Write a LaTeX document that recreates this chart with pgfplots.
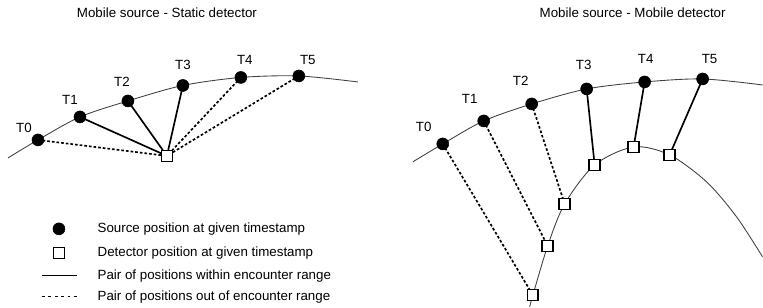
\documentclass[border=0pt]{standalone}
\usepackage{pgfplots}
\pgfplotsset{compat=1.18}
\usepackage{fontspec}
\setmainfont{Liberation Sans}
\begin{document}
\begin{tikzpicture}
\begin{axis}[scale only axis, width=572.25pt, height=230.25pt,
  xmin=0, xmax=763, ymin=0, ymax=307, y dir=reverse,
  hide axis, clip=false,
  every node/.append style={font=\fontsize{9.9}{11}\selectfont, inner sep=0pt},
  arc/.style={smooth, black!75, line width=0.65pt},
  inr/.style={black, line width=1.25pt},
  outr/.style={black, line width=1.25pt, dash pattern=on 2pt off 1.5pt},
  src/.style={only marks, mark=*, mark size=4.5pt, mark options={fill=black, draw=black}},
  det/.style={only marks, mark=square*, mark size=4.1pt, mark options={fill=white, draw=black, line width=1.1pt}},
]
\path (rel axis cs:0,0) rectangle (rel axis cs:1,1);

% ---------- left panel: mobile source, static detector ----------
\addplot[arc] coordinates {(8,158) (38,140) (80,117) (128,101) (183,85.5) (241,77.5) (299,76) (358,82)};
\addplot[outr] coordinates {(38,140) (167,156)};
\addplot[inr]  coordinates {(80,117) (167,156)};
\addplot[inr]  coordinates {(128,101) (167,156)};
\addplot[inr]  coordinates {(183,85.5) (167,156)};
\addplot[outr] coordinates {(241,77.5) (167,156)};
\addplot[outr] coordinates {(299,76) (167,156)};
\addplot[det] coordinates {(167,156)};
\addplot[src] coordinates {(38,140) (80,117) (128,101) (183,85.5) (241,77.5) (299,76)};

\node at (axis cs:167,13) {Mobile source - Static detector};
\node at (axis cs:24,128) {T0};
\node at (axis cs:70,100) {T1};
\node at (axis cs:122,82) {T2};
\node at (axis cs:183,65) {T3};
\node at (axis cs:245,60) {T4};
\node at (axis cs:308,60) {T5};

% ---------- right panel: mobile source, mobile detector ----------
\addplot[arc] coordinates {(413,162) (443,144) (484,121) (532,104) (587,89) (645,82) (703,79) (763,85)};
\addplot[arc] coordinates {(530,307) (533,296) (548,246) (565,204) (595,165) (634,147) (670,155) (707,182) (737,217) (763,257)};
\addplot[outr] coordinates {(443,144) (533,295)};
\addplot[outr] coordinates {(484,121) (548,246)};
\addplot[outr] coordinates {(532,104) (565,204)};
\addplot[inr]  coordinates {(587,89) (595,165)};
\addplot[inr]  coordinates {(645,82) (634,147)};
\addplot[inr]  coordinates {(703,79) (670,155)};
\addplot[det] coordinates {(533,295) (548,246) (565,204) (595,165) (634,147) (670,155)};
\addplot[src] coordinates {(443,144) (484,121) (532,104) (587,89) (645,82) (703,79)};

\node at (axis cs:633,13) {Mobile source - Mobile detector};
\node at (axis cs:424,127) {T0};
\node at (axis cs:470,99) {T1};
\node at (axis cs:521,81) {T2};
\node at (axis cs:584,65) {T3};
\node at (axis cs:646,59) {T4};
\node at (axis cs:710,59) {T5};

% ---------- legend ----------
\addplot[src] coordinates {(59,229)};
\addplot[det] coordinates {(59,253)};
\addplot[black, line width=0.9pt] coordinates {(42,276) (77,276)};
\addplot[black, line width=0.9pt, dash pattern=on 2.2pt off 2.6pt] coordinates {(42,297) (77,297)};
\node[anchor=west] at (axis cs:93,229) {Source position at given timestamp};
\node[anchor=west] at (axis cs:93,253) {Detector position at given timestamp};
\node[anchor=west] at (axis cs:93,276) {Pair of positions within encounter range};
\node[anchor=west] at (axis cs:93,297) {Pair of positions out of encounter range};
\end{axis}
\end{tikzpicture}
\end{document}
